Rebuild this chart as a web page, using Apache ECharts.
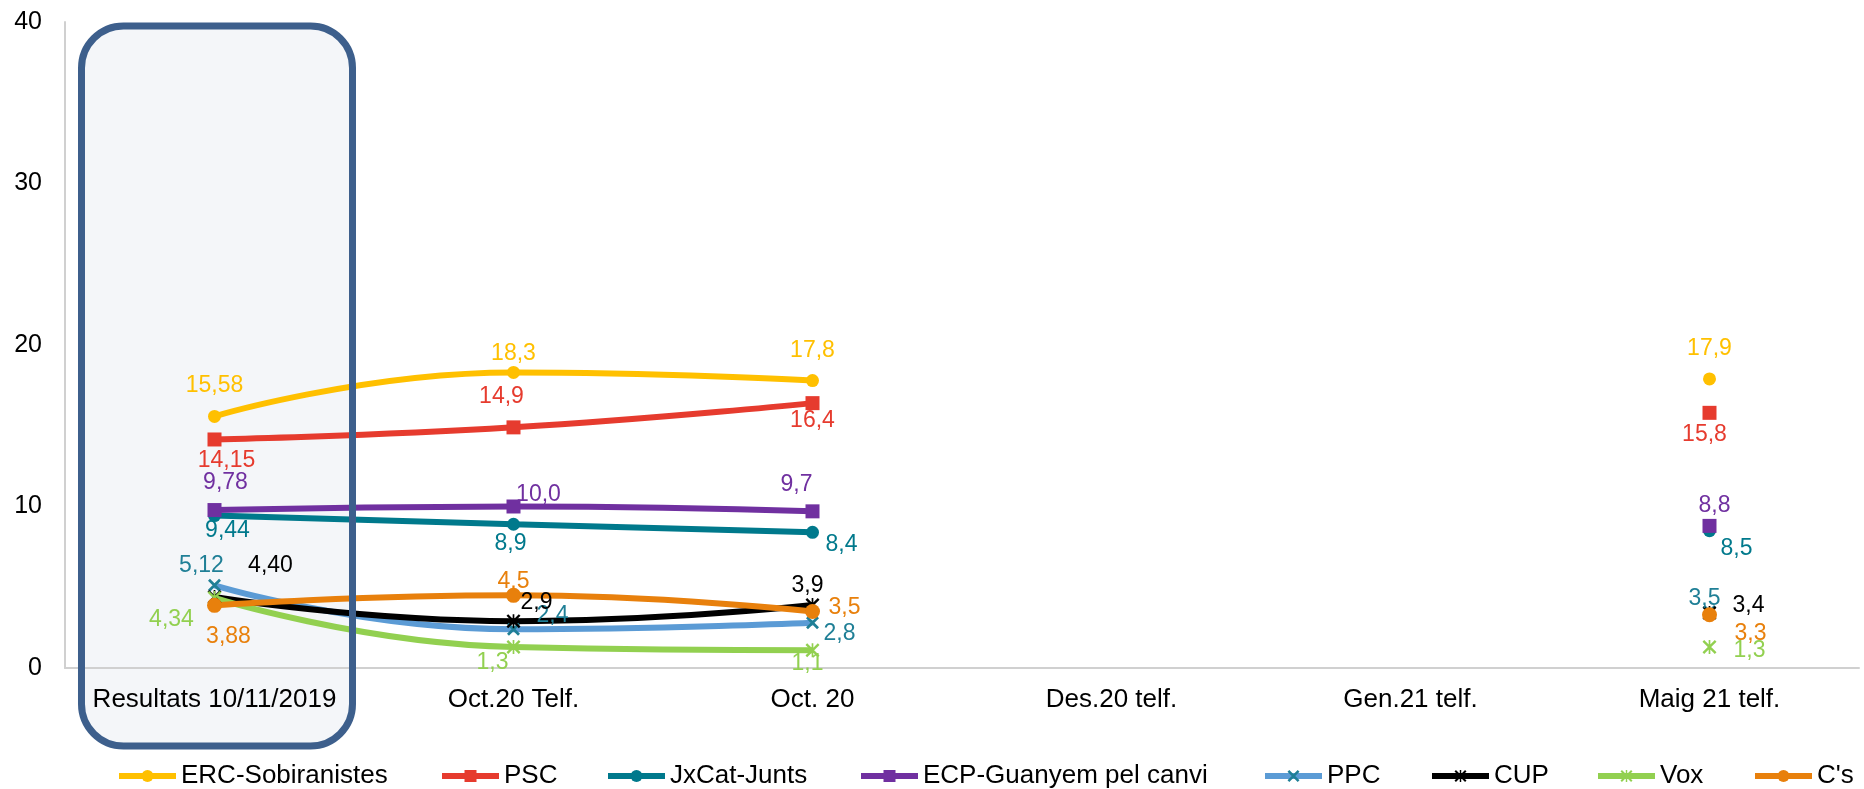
<!DOCTYPE html>
<html>
<head>
<meta charset="utf-8">
<script src="https://cdn.jsdelivr.net/npm/echarts@6/dist/echarts.min.js"></script>
<style>
html,body{margin:0;padding:0;background:#fff;}
#chart{width:1864px;height:789px;}
</style>
</head>
<body>
<div id="chart"></div>
<script>
// ---- data ----
const categories = ['Resultats 10/11/2019', 'Oct.20 Telf.', 'Oct. 20', 'Des.20 telf.', 'Gen.21 telf.', 'Maig 21 telf.'];
const seriesNames = ['ERC-Sobiranistes', 'PSC', 'JxCat-Junts', 'ECP-Guanyem pel canvi', 'PPC', 'CUP', 'Vox', "C's"];
const ercValues   = [15.58, 18.3, 17.8, null, null, 17.9];
const pscValues   = [14.15, 14.9, 16.4, null, null, 15.8];
const jxcatValues = [9.44, 8.9, 8.4, null, null, 8.5];
const ecpValues   = [9.78, 10.0, 9.7, null, null, 8.8];
const ppcValues   = [5.12, 2.4, 2.8, null, null, 3.5];
const cupValues   = [4.40, 2.9, 3.9, null, null, 3.4];
const voxValues   = [4.34, 1.3, 1.1, null, null, 1.3];
const csValues    = [3.88, 4.5, 3.5, null, null, 3.3];
const yTicks = [0, 10, 20, 30, 40];

// ---- styles (kept apart from data) ----
const FONT = "'Liberation Sans', Arial, sans-serif";
const X_PATH = 'path://M0,1.5 L1.5,0 L10,8.5 L8.5,10 Z M8.5,0 L10,1.5 L1.5,10 L0,8.5 Z';
const STAR_PATH = 'path://M0,1.2 L1.2,0 L10,8.8 L8.8,10 Z M8.8,0 L10,1.2 L1.2,10 L0,8.8 Z M4.4,0 L5.6,0 L5.6,10 L4.4,10 Z';
const styles = {
  'ERC-Sobiranistes':      {line: '#FFC000', mark: '#FFC000', symbol: 'circle', size: 13},
  'PSC':                   {line: '#E63B2E', mark: '#E63B2E', symbol: 'rect', size: 14},
  'JxCat-Junts':           {line: '#00798C', mark: '#00798C', symbol: 'circle', size: 13},
  'ECP-Guanyem pel canvi': {line: '#7030A0', mark: '#7030A0', symbol: 'rect', size: 14},
  'PPC':                   {line: '#5B9BD5', mark: '#1F7F96', symbol: X_PATH, size: 13},
  'CUP':                   {line: '#000000', mark: '#000000', symbol: STAR_PATH, size: 14},
  'Vox':                   {line: '#92D050', mark: '#92D050', symbol: STAR_PATH, size: 14},
  "C's":                   {line: '#E8800C', mark: '#E8800C', symbol: 'circle', size: 15}
};
// label offsets (dx, dy) from point centre, by category index
const labelOffsets = {
  'ERC-Sobiranistes':      [[0,-31],[0,-19],[0,-30],null,null,[0,-30]],
  'PSC':                   [[12,21],[-12,-31],[0,18],null,null,[-5,22]],
  'JxCat-Junts':           [[13,15],[-3,19],[29,12],null,null,[27,18]],
  'ECP-Guanyem pel canvi': [[11,-27],[25,-12],[-16,-27],null,null,[5,-20]],
  'PPC':                   [[-13,-20],[39,-14],[27,11],null,null,[-5,-13]],
  'CUP':                   [[56,-31],[23,-19],[-5,-19],null,null,[39,-7]],
  'Vox':                   [[-43,22],[-21,16],[-5,13],null,null,[40,4]],
  "C's":                   [[14,31],[0,-14],[32,-4],null,null,[41,19]]
};
const legendLeft = [116, 439, 605, 858, 1262, 1429, 1595, 1752];

const valuesByName = {
  'ERC-Sobiranistes': ercValues, 'PSC': pscValues, 'JxCat-Junts': jxcatValues,
  'ECP-Guanyem pel canvi': ecpValues, 'PPC': ppcValues, 'CUP': cupValues,
  'Vox': voxValues, "C's": csValues
};

function fmt(v, idx) {
  return (idx === 0 ? v.toFixed(2) : v.toFixed(1)).replace('.', ',');
}

const series = seriesNames.map(name => {
  const st = styles[name];
  const vals = valuesByName[name];
  return {
    name: name,
    type: 'line',
    smooth: 0.5,
    connectNulls: false,
    showAllSymbol: true,
    symbol: st.symbol,
    symbolSize: st.size,
    lineStyle: {color: st.line, width: 6},
    itemStyle: {color: st.mark},
    emphasis: {disabled: true},
    label: {
      show: true,
      position: 'inside',
      color: st.mark,
      fontFamily: FONT,
      fontSize: 23,
      formatter: p => fmt(p.value, p.dataIndex)
    },
    data: vals.map((v, i) => v == null ? null : {
      value: v,
      label: {offset: labelOffsets[name][i]}
    })
  };
});

const legends = seriesNames.map((name, i) => ({
  data: [name],
  left: legendLeft[i],
  top: 763,
  padding: 0,
  itemWidth: 57,
  itemHeight: 15,
  itemGap: 0,
  lineStyle: {width: 6},
  textStyle: {color: '#000', fontFamily: FONT, fontSize: 26},
  selectedMode: false
}));

const chart = echarts.init(document.getElementById('chart'), null, {renderer: 'canvas'});
chart.setOption({
  animation: false,
  backgroundColor: '#fff',
  grid: {left: 65, right: 5, top: 22, bottom: 121, containLabel: false},
  legend: legends,
  xAxis: {
    type: 'category',
    data: categories,
    boundaryGap: true,
    axisLine: {show: true, lineStyle: {color: '#d0d0d0', width: 2}},
    axisTick: {show: false},
    axisLabel: {color: '#000', fontFamily: FONT, fontSize: 26, margin: 19, interval: 0},
    splitLine: {show: false}
  },
  yAxis: {
    type: 'value',
    min: yTicks[0],
    max: yTicks[yTicks.length - 1],
    interval: yTicks[1] - yTicks[0],
    axisLine: {show: true, lineStyle: {color: '#d0d0d0', width: 2}},
    axisTick: {show: false},
    axisLabel: {color: '#000', fontFamily: FONT, fontSize: 25, margin: 23},
    splitLine: {show: false}
  },
  graphic: [
    {
      type: 'rect', z: -1,
      shape: {x: 81.5, y: 26, width: 271, height: 720, r: 42},
      style: {fill: '#F4F6F9', stroke: null}
    },
    {
      type: 'rect', z: 10,
      shape: {x: 81.5, y: 26, width: 271, height: 720, r: 42},
      style: {fill: null, stroke: '#3D5F8C', lineWidth: 7}
    }
  ],
  series: series
});
</script>
</body>
</html>
